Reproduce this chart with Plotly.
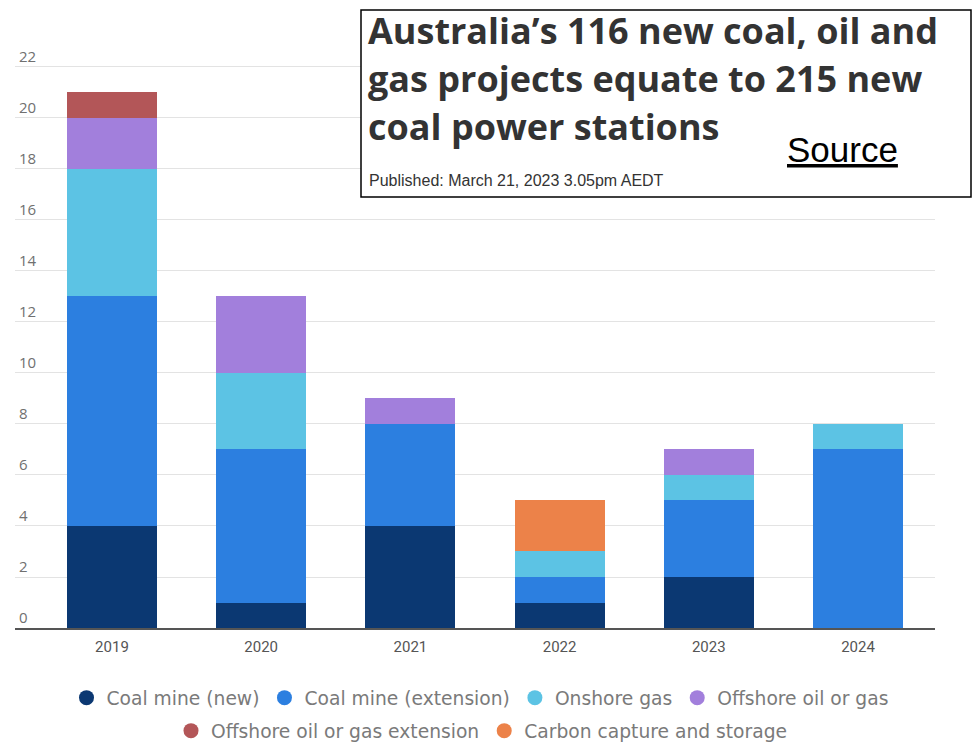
import plotly.graph_objects as go

years = ["2019", "2020", "2021", "2022", "2023", "2024"]
series_names = ["Coal mine (new)", "Coal mine (extension)", "Onshore gas",
                "Offshore oil or gas", "Offshore oil or gas extension",
                "Carbon capture and storage"]
coal_new = [4, 1, 4, 1, 2, 0]
coal_ext = [9, 6, 4, 1, 3, 7]
onshore_gas = [5, 3, 0, 1, 1, 1]
offshore = [2, 3, 1, 0, 1, 0]
offshore_ext = [1, 0, 0, 0, 0, 0]
carbon_capture = [0, 0, 0, 2, 0, 0]
y_ticks = [0, 2, 4, 6, 8, 10, 12, 14, 16, 18, 20, 22]

values = [coal_new, coal_ext, onshore_gas, offshore, offshore_ext, carbon_capture]
colors = ["#0b3872", "#2c7fe0", "#5cc3e4", "#a27fdc", "#b35658", "#ec8249"]

W, H = 972, 743
L, R, T, B = 15, 37, 44, 115
PW = W - L - R
PH = H - T - B


def px(x):
    return (x - L) / PW


def py(y):
    return (H - B - y) / PH


fig = go.Figure()
for name, vals, col in zip(series_names, values, colors):
    fig.add_trace(go.Bar(x=years, y=vals, name=name, marker_color=col,
                         marker_line_width=0, showlegend=False))

for i, (name, col) in enumerate(zip(series_names, colors)):
    fig.add_trace(go.Scatter(x=[None], y=[None], mode="markers", name=name,
                             marker=dict(color=col, size=15, symbol="circle"),
                             legend="legend" if i < 4 else "legend2"))

leg_font = dict(family="DejaVu Sans", size=18.7, color="#7a7a7a")
fig.update_layout(
    width=W, height=H,
    margin=dict(l=L, r=R, t=T, b=B),
    paper_bgcolor="white", plot_bgcolor="white",
    barmode="stack", bargap=0.397,
    xaxis=dict(type="category", range=[-0.65, 5.516], showgrid=False,
               showline=True, linecolor="#555555", linewidth=2,
               tickfont=dict(family="Roboto", size=15, color="#555555"),
               ticks="", ticklabelstandoff=4),
    yaxis=dict(range=[0, 22.9], tickvals=y_ticks, showgrid=True,
               gridcolor="#e3e3e3", gridwidth=1, zeroline=False,
               ticklabelposition="inside top", ticklabelstandoff=1,
               tickfont=dict(family="Open Sans", size=15, color="#707070")),
    legend=dict(orientation="h", xref="paper", x=px(480), xanchor="center",
                yref="container", y=(H - 698) / H, yanchor="middle",
                font=leg_font, itemwidth=30, traceorder="normal",
                bgcolor="rgba(0,0,0,0)"),
    legend2=dict(orientation="h", xref="paper", x=px(482), xanchor="center",
                 yref="container", y=(H - 731) / H, yanchor="middle",
                 font=leg_font, itemwidth=30, traceorder="normal",
                 bgcolor="rgba(0,0,0,0)"),
)

# Title box
fig.add_shape(type="rect", xref="paper", yref="paper",
              x0=px(361), x1=px(971), y0=py(197), y1=py(10),
              fillcolor="white", line=dict(color="black", width=1.5), layer="above")

title_lines = ["Australia’s 116 new coal, oil and",
               "gas projects equate to 215 new",
               "coal power stations"]
for line, yc in zip(title_lines, [30, 78, 127]):
    fig.add_annotation(xref="paper", yref="paper", x=px(366), y=py(yc),
                       xanchor="left", yanchor="middle", text="<b>" + line + "</b>",
                       showarrow=False,
                       font=dict(family="Open Sans", size=36, color="#333333"))

fig.add_annotation(xref="paper", yref="paper", x=px(842), y=py(150),
                   xanchor="center", yanchor="middle", text="<u>Source</u>",
                   showarrow=False,
                   font=dict(family="Liberation Sans", size=35, color="black"))
fig.add_annotation(xref="paper", yref="paper", x=px(367), y=py(180),
                   xanchor="left", yanchor="middle",
                   text="Published: March 21, 2023 3.05pm AEDT", showarrow=False,
                   font=dict(family="Liberation Sans", size=16, color="#333333"))

fig.write_html("out.html", config={"displayModeBar": False},
               post_script="document.body.style.margin='0px';")
